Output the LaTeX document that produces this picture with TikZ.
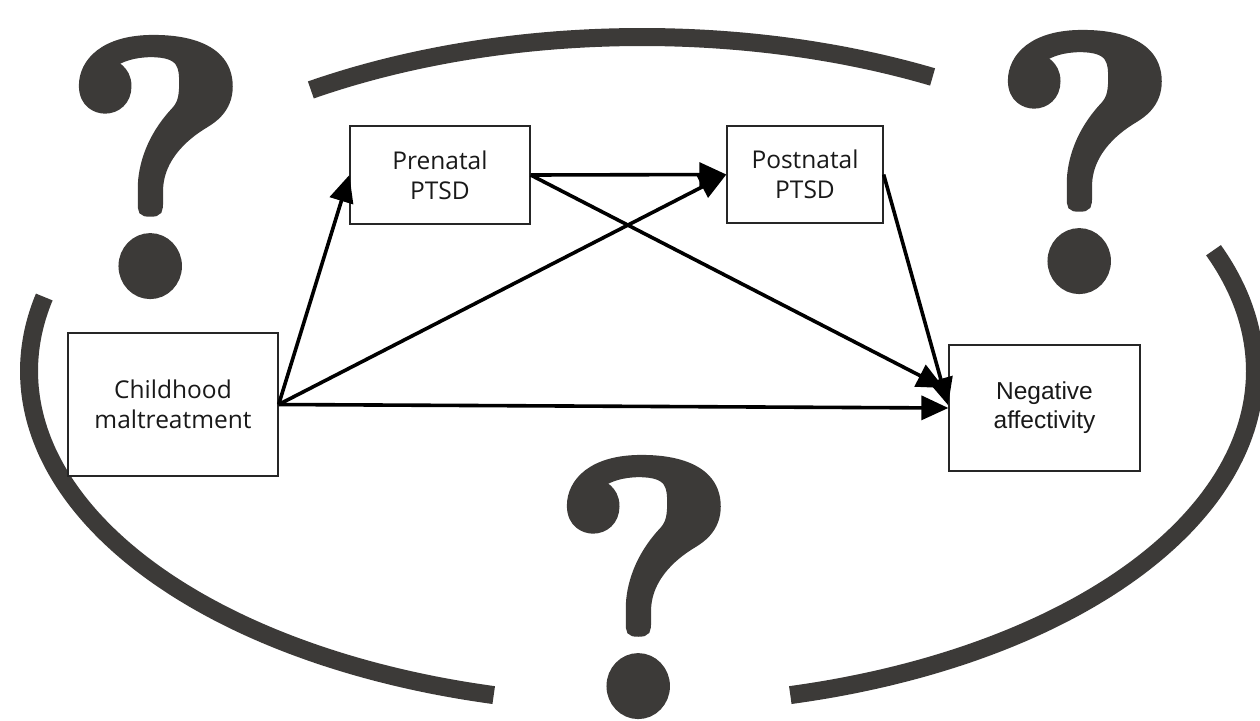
\documentclass[tikz,border=0pt]{standalone}
\usepackage{fontspec}
\usepackage{graphicx}
\usetikzlibrary{arrows.meta}
\newfontfamily\opensans{Open Sans}
\newfontfamily\libsans{Liberation Sans}
\newfontfamily\qfont[FakeBold=2.5]{lmroman10-bold.otf}
\definecolor{arcgray}{HTML}{3C3A38}
\begin{document}
\begin{tikzpicture}[x=1pt,y=-1pt,
  box/.style={draw=black!85, line width=1.3pt, fill=white, inner sep=0pt, align=center, text=black!90},
  osfont/.style={font=\opensans\fontsize{24.5}{30}\selectfont},
  arfont/.style={font=\libsans\fontsize{24.5}{29}\selectfont},
  ring/.style={draw=arcgray, line width=18pt, line cap=butt},
  qmark/.style={inner sep=0pt, text=arcgray},
  link/.style={line width=3.6pt, draw=black, -{Triangle[length=27pt,width=24pt]}}
]
\useasboundingbox (0,0) rectangle (1260,720);
\fill[white] (0,0) rectangle (1260,720);

% broken ellipse
\draw[ring] plot[domain=61.7:122.7, samples=80] ({642+613*cos(\x)}, {371-334*sin(\x)});
\draw[ring] plot[domain=-76:21.2, samples=120] ({642+613*cos(\x)}, {371-334*sin(\x)});
\draw[ring] plot[domain=167.2:256, samples=120] ({642+613*cos(\x)}, {371-334*sin(\x)});

% question marks
\node[qmark] (q1) at (156,167) {\resizebox{190pt}{255pt}{\qfont ?}};
\node[qmark] (q2) at (1085,162) {\resizebox{190pt}{255pt}{\qfont ?}};
\node[qmark] (q3) at (644,587) {\resizebox{190pt}{255pt}{\qfont ?}};

% boxes
\node[box, osfont, minimum width=210pt, minimum height=143pt] (child) at (173,404.5) {Childhood\\maltreatment};
\node[box, osfont, minimum width=180pt, minimum height=98pt] (pre) at (440,175) {Prenatal\\PTSD};
\node[box, osfont, minimum width=156pt, minimum height=97pt] (post) at (805,174.5) {Postnatal\\PTSD};
\node[box, arfont, minimum width=191pt, minimum height=126pt] (neg) at (1044.5,408) {Negative\\affectivity};

\coordinate (negtipA) at (944,388);
\coordinate (negtipB) at (948,405);
\coordinate (negtipC) at (neg.west);

% connectors
\draw[link] (child.east) -- (pre.west);
\draw[link] (child.east) -- (post.west);
\draw[link] (child.east) -- (negtipC);
\draw[link] (pre.east) -- (post.west);
\draw[link] (pre.east) -- (negtipA);
\draw[link] (post.east) -- (negtipB);
\end{tikzpicture}
\end{document}
